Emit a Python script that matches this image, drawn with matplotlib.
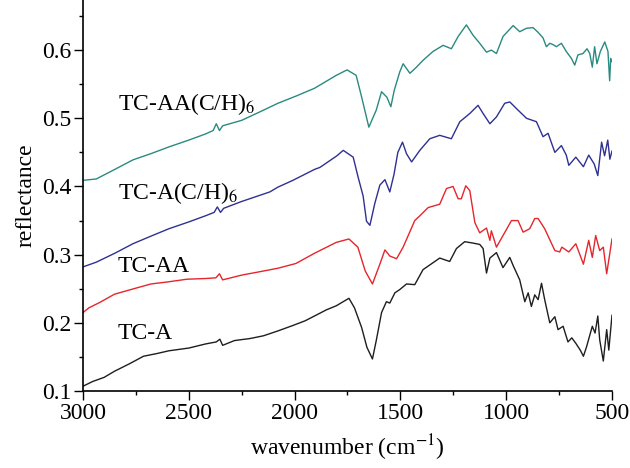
import numpy as np
import matplotlib
matplotlib.use('Agg')
import matplotlib.pyplot as plt
from matplotlib.ticker import MultipleLocator

# wavenumber (cm-1) / reflectance pairs
wn_a = [3000, 2954, 2900, 2851, 2780, 2714, 2650, 2594, 2500, 2421, 2370, 2353, 2340,
        2284, 2210, 2147, 2080, 2009, 1950, 1906, 1850, 1803, 1743, 1717, 1683, 1658,
        1632, 1614, 1589, 1566, 1550, 1526, 1502, 1471, 1432, 1393, 1314, 1267, 1235,
        1196, 1157, 1125, 1109, 1093, 1077, 1046, 1015, 983, 967, 936, 912, 896, 881,
        865, 849, 833, 818, 794, 770, 755, 731, 708, 690, 671, 650, 635, 620, 593, 580,
        567, 558, 541, 525, 515, 500]
r_a = [0.107, 0.114, 0.120, 0.129, 0.140, 0.151, 0.155, 0.159, 0.163, 0.169, 0.172, 0.176, 0.167,
       0.174, 0.177, 0.181, 0.188, 0.196, 0.203, 0.210, 0.219, 0.225, 0.236, 0.222, 0.193, 0.164,
       0.147, 0.174, 0.215, 0.231, 0.229, 0.244, 0.249, 0.257, 0.256, 0.278, 0.295, 0.290, 0.309,
       0.319, 0.317, 0.315, 0.309, 0.273, 0.295, 0.303, 0.281, 0.296, 0.284, 0.263, 0.231, 0.244, 0.224,
       0.241, 0.234, 0.258, 0.234, 0.200, 0.209, 0.190, 0.195, 0.172, 0.178, 0.170, 0.160, 0.151, 0.165, 0.195, 0.185,
       0.210, 0.175, 0.144, 0.190, 0.160, 0.211]

wn_aa = [3000, 2972, 2920, 2851, 2760, 2679, 2600, 2508, 2420, 2372, 2355, 2340, 2250,
         2164, 2080, 1994, 1906, 1803, 1743, 1701, 1666, 1632, 1597, 1573, 1550, 1518,
         1487, 1432, 1408, 1369, 1314, 1282, 1251, 1227, 1212, 1191, 1172, 1148, 1125,
         1093, 1077, 1070, 1046, 1015, 975, 944, 920, 889, 865, 849, 818, 770, 747, 737,
         704, 671, 635, 610, 593, 577, 558, 541, 525, 500]
r_aa = [0.215, 0.222, 0.230, 0.242, 0.250, 0.257, 0.260, 0.264, 0.265, 0.266, 0.272, 0.263, 0.270,
        0.275, 0.280, 0.287, 0.302, 0.318, 0.323, 0.311, 0.276, 0.257, 0.286, 0.307, 0.298, 0.294,
        0.311, 0.350, 0.357, 0.369, 0.374, 0.397, 0.400, 0.382, 0.382, 0.401, 0.394, 0.347, 0.332,
        0.339, 0.321, 0.335, 0.311, 0.328, 0.350, 0.350, 0.333, 0.338, 0.353, 0.353, 0.338, 0.306, 0.304, 0.311,
        0.304, 0.316, 0.286, 0.321, 0.296, 0.328, 0.306, 0.311, 0.272, 0.323]

wn_ach = [3000, 2937, 2850, 2764, 2680, 2594, 2500, 2421, 2380, 2365, 2350, 2335, 2250,
          2117, 2079, 2008, 1906, 1880, 1800, 1770, 1723, 1700, 1676, 1660, 1644, 1621,
          1597, 1573, 1550, 1530, 1512, 1490, 1471, 1447, 1408, 1361, 1314, 1259, 1219,
          1172, 1133, 1109, 1077, 1046, 1007, 983, 944, 904, 857, 826, 802, 770, 739, 716,
          704, 671, 635, 610, 584, 567, 549, 535, 520, 510, 500]
r_ach = [0.282, 0.289, 0.302, 0.316, 0.327, 0.338, 0.348, 0.357, 0.362, 0.370, 0.362, 0.368, 0.378,
         0.392, 0.399, 0.409, 0.425, 0.428, 0.445, 0.453, 0.443, 0.414, 0.386, 0.349, 0.343, 0.375,
         0.402, 0.410, 0.392, 0.418, 0.450, 0.465, 0.448, 0.436, 0.453, 0.470, 0.475, 0.470, 0.495,
         0.507, 0.519, 0.507, 0.492, 0.502, 0.522, 0.524, 0.512, 0.500, 0.495, 0.473, 0.478, 0.450, 0.460, 0.446,
         0.431, 0.443, 0.429, 0.446, 0.433, 0.416, 0.465, 0.445, 0.468, 0.440, 0.452]

wn_aach = [3000, 2937, 2850, 2764, 2680, 2594, 2500, 2421, 2385, 2370, 2355, 2340, 2250,
           2160, 2079, 1990, 1906, 1803, 1752, 1709, 1683, 1649, 1614, 1589, 1564, 1545,
           1529, 1503, 1487, 1455, 1424, 1393, 1346, 1298, 1259, 1227, 1188, 1157, 1125,
           1093, 1070, 1046, 1015, 967, 936, 904, 873, 849, 826, 810, 794, 778, 763, 739,
           716, 692, 676, 661, 637, 618, 605, 593, 582, 571, 555, 534, 519, 511, 506, 500]
r_aach = [0.409, 0.411, 0.425, 0.439, 0.448, 0.458, 0.468, 0.477, 0.482, 0.492, 0.482, 0.489, 0.497,
          0.510, 0.522, 0.533, 0.544, 0.563, 0.571, 0.563, 0.531, 0.487, 0.512, 0.539, 0.531, 0.517,
          0.541, 0.568, 0.580, 0.566, 0.575, 0.585, 0.598, 0.607, 0.602, 0.620, 0.637, 0.622, 0.610,
          0.597, 0.600, 0.595, 0.620, 0.636, 0.627, 0.632, 0.633, 0.626, 0.618, 0.605, 0.610, 0.608, 0.605, 0.610,
          0.598, 0.588, 0.578, 0.593, 0.595, 0.602, 0.595, 0.575, 0.605, 0.580, 0.598, 0.612, 0.598, 0.555, 0.588, 0.583]

labels = ['TC-A', 'TC-AA', r'TC-A(C/H)$_6$', r'TC-AA(C/H)$_6$']
label_y = [0.176, 0.274, 0.382, 0.512]
colors = ['#1e1e1e', '#e5262c', '#2e3192', '#2a8a80']

plt.rcParams['font.family'] = ['Liberation Serif', 'DejaVu Serif']
plt.rcParams['mathtext.fontset'] = 'stix'

fig = plt.figure(figsize=(6.3, 4.68), dpi=100)
ax = fig.add_axes([0.1317, 0.1645, 0.8397, 0.8355])

series = [(wn_a, r_a), (wn_aa, r_aa), (wn_ach, r_ach), (wn_aach, r_aach)]
for (x, y), c in zip(series, colors):
    ax.plot(x, y, color=c, lw=1.0)

for lab, yy in zip(labels, label_y):
    ax.text(2835, yy, lab, fontsize=17, va='baseline', ha='left')

ax.set_xlim(3000, 500)
ax.set_ylim(0.1, 0.6735)
ax.xaxis.set_major_locator(MultipleLocator(500))
ax.xaxis.set_minor_locator(MultipleLocator(250))
ax.yaxis.set_major_locator(MultipleLocator(0.1))
ax.yaxis.set_minor_locator(MultipleLocator(0.05))
ax.set_yticks([0.1, 0.2, 0.3, 0.4, 0.5, 0.6])

for s in ['top', 'right']:
    ax.spines[s].set_visible(False)
for s in ['left', 'bottom']:
    ax.spines[s].set_linewidth(1.2)

ax.tick_params(which='major', direction='out', length=6.5, width=1.0, labelsize=17, pad=2)
ax.tick_params(which='minor', direction='out', length=3, width=1.0)

ax.set_xlabel(r'wavenumber (cm$^{-1}$)', fontsize=17, labelpad=6)
ax.set_ylabel('reflectance', fontsize=17, labelpad=4)

fig.savefig('out.png', dpi=100)
